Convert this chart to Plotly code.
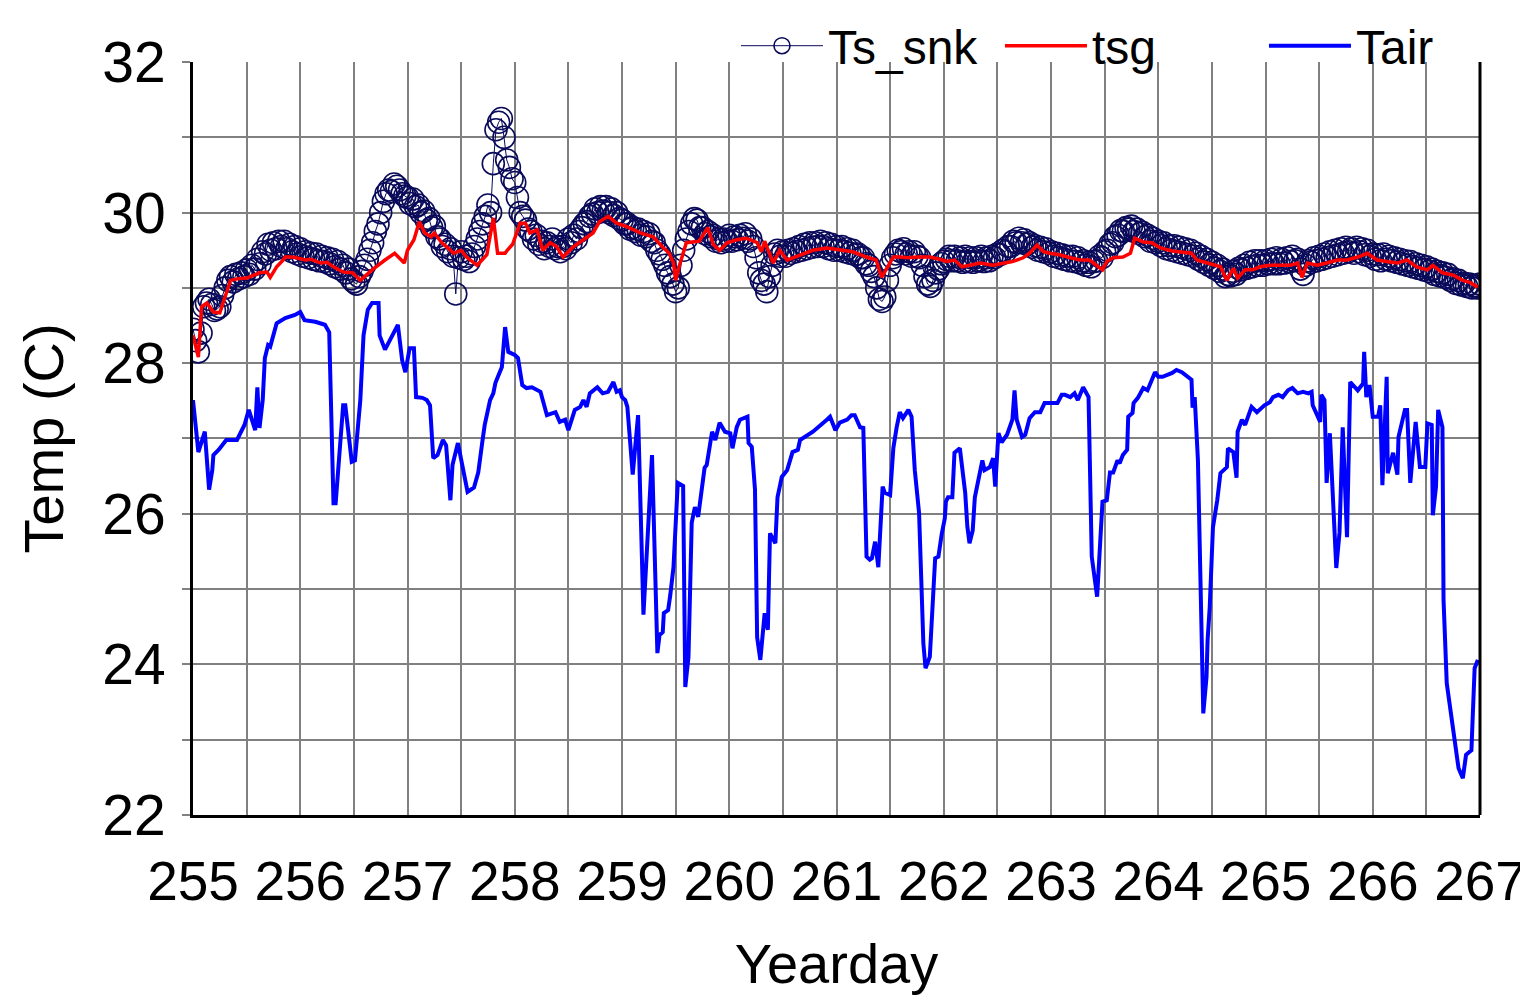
import numpy as np
import plotly.graph_objects as go

# ---------------- data ----------------
# Ts_snk sampled every 0.025 yearday starting at 255.0 (one row per day)
ts_snk_start = 255.0
ts_snk_step = 0.025
ts_snk = [
    # 255
    28.45, 28.30, 28.15, 28.40, 28.75, 28.80, 28.85, 28.78, 28.70, 28.72,
    28.75, 28.90, 29.00, 29.10, 29.15, 29.08, 29.18, 29.12, 29.20, 29.15,
    29.24, 29.18, 29.30, 29.25, 29.38, 29.32, 29.48, 29.45, 29.58, 29.50,
    29.60, 29.52, 29.62, 29.55, 29.62, 29.52, 29.58, 29.48, 29.55, 29.45,
    # 256
    29.52, 29.42, 29.48, 29.40, 29.46, 29.38, 29.45, 29.36, 29.42, 29.35,
    29.40, 29.32, 29.38, 29.28, 29.35, 29.25, 29.30, 29.20, 29.25, 29.12,
    29.08, 29.05, 29.15, 29.22, 29.30, 29.38, 29.50, 29.60, 29.75, 29.85,
    30.00, 30.15, 30.25, 30.30, 30.28, 30.38, 30.35, 30.30, 30.25, 30.22,
    # 257
    30.20, 30.12, 30.18, 30.08, 30.10, 30.00, 30.02, 29.90, 29.92, 29.80,
    29.82, 29.68, 29.65, 29.55, 29.58, 29.48, 29.52, 29.42, 28.92, 29.40,
    29.48, 29.38, 29.42, 29.35, 29.45, 29.55, 29.65, 29.75, 29.85, 29.95,
    30.10, 30.00, 30.65, 31.10, 31.20, 31.25, 31.00, 30.70, 30.60, 30.45,
    # 258
    30.40, 30.20, 30.00, 29.95, 29.90, 29.78, 29.75, 29.65, 29.70, 29.58,
    29.62, 29.52, 29.60, 29.55, 29.65, 29.52, 29.55, 29.48, 29.55, 29.52,
    29.65, 29.60, 29.70, 29.65, 29.75, 29.80, 29.85, 29.88, 29.95, 29.98,
    30.05, 30.00, 30.08, 30.02, 30.08, 30.00, 30.05, 29.96, 30.00, 29.92,
    # 259
    29.90, 29.85, 29.85, 29.78, 29.80, 29.75, 29.78, 29.70, 29.75, 29.68,
    29.72, 29.62, 29.60, 29.50, 29.45, 29.38, 29.30, 29.20, 29.15, 29.05,
    28.95, 29.00, 29.30, 29.50, 29.65, 29.75, 29.85, 29.92, 29.90, 29.80,
    29.80, 29.72, 29.75, 29.68, 29.70, 29.62, 29.65, 29.60, 29.65, 29.62,
    # 260
    29.70, 29.62, 29.68, 29.64, 29.70, 29.66, 29.72, 29.62, 29.65, 29.55,
    29.40, 29.20, 29.10, 29.05, 28.95, 29.15, 29.30, 29.45, 29.50, 29.42,
    29.48, 29.42, 29.50, 29.46, 29.52, 29.48, 29.55, 29.50, 29.58, 29.52,
    29.60, 29.54, 29.60, 29.55, 29.62, 29.55, 29.60, 29.52, 29.58, 29.50,
    # 261
    29.55, 29.50, 29.55, 29.48, 29.52, 29.46, 29.50, 29.44, 29.45, 29.40,
    29.40, 29.32, 29.30, 29.22, 29.15, 29.00, 28.85, 28.82, 28.88, 29.10,
    29.30, 29.40, 29.45, 29.50, 29.48, 29.52, 29.45, 29.48, 29.42, 29.48,
    29.42, 29.40, 29.30, 29.15, 29.05, 29.02, 29.10, 29.20, 29.25, 29.32,
    # 262
    29.35, 29.38, 29.42, 29.36, 29.42, 29.36, 29.40, 29.34, 29.42, 29.35,
    29.40, 29.34, 29.40, 29.36, 29.42, 29.35, 29.40, 29.36, 29.42, 29.40,
    29.45, 29.44, 29.50, 29.48, 29.55, 29.55, 29.62, 29.60, 29.66, 29.60,
    29.64, 29.58, 29.60, 29.54, 29.56, 29.50, 29.54, 29.48, 29.52, 29.46,
    # 263
    29.48, 29.42, 29.46, 29.40, 29.44, 29.38, 29.42, 29.36, 29.42, 29.35,
    29.40, 29.33, 29.36, 29.30, 29.34, 29.28, 29.35, 29.36, 29.42, 29.40,
    29.48, 29.50, 29.58, 29.60, 29.68, 29.70, 29.76, 29.75, 29.80, 29.78,
    29.82, 29.75, 29.78, 29.72, 29.74, 29.68, 29.70, 29.62, 29.66, 29.60,
    # 264
    29.62, 29.56, 29.60, 29.52, 29.56, 29.50, 29.56, 29.48, 29.54, 29.46,
    29.52, 29.44, 29.50, 29.42, 29.46, 29.38, 29.42, 29.34, 29.38, 29.30,
    29.34, 29.26, 29.30, 29.22, 29.25, 29.15, 29.18, 29.16, 29.22, 29.18,
    29.26, 29.24, 29.30, 29.26, 29.34, 29.28, 29.36, 29.30, 29.36, 29.30,
    # 265
    29.36, 29.32, 29.38, 29.32, 29.40, 29.32, 29.38, 29.33, 29.40, 29.35,
    29.42, 29.36, 29.38, 29.25, 29.18, 29.30, 29.36, 29.34, 29.40, 29.36,
    29.42, 29.38, 29.45, 29.40, 29.48, 29.42, 29.50, 29.44, 29.52, 29.46,
    29.54, 29.48, 29.52, 29.46, 29.54, 29.48, 29.52, 29.44, 29.50, 29.42,
    # 266
    29.45, 29.38, 29.44, 29.36, 29.45, 29.38, 29.42, 29.36, 29.40, 29.34,
    29.38, 29.32, 29.36, 29.30, 29.35, 29.28, 29.32, 29.26, 29.30, 29.24,
    29.28, 29.22, 29.25, 29.18, 29.22, 29.16, 29.20, 29.14, 29.18, 29.10,
    29.12, 29.06, 29.10, 29.04, 29.06, 29.02, 29.05, 29.00, 29.03, 29.00,
    # 267
    29.05,
]
ts_snk_day = ts_snk_start + ts_snk_step * np.arange(len(ts_snk))

tsg_day = [
    255.00, 255.05, 255.08, 255.13, 255.19, 255.25, 255.28, 255.35, 255.41, 255.50,
    255.62, 255.69, 255.72, 255.78, 255.84, 255.86, 255.93, 255.97, 256.05, 256.10,
    256.19, 256.25, 256.31, 256.40, 256.49, 256.56, 256.67, 256.79, 256.88, 256.97,
    257.00, 257.06, 257.11, 257.16, 257.22, 257.25, 257.32, 257.37, 257.43, 257.50,
    257.55, 257.65, 257.74, 257.80, 257.84, 257.91, 257.93, 257.98, 258.05, 258.10,
    258.14, 258.21, 258.26, 258.33, 258.39, 258.45, 258.54, 258.64, 258.73, 258.79,
    258.87, 258.95, 259.05, 259.17, 259.29, 259.38, 259.44, 259.48, 259.50, 259.53,
    259.60, 259.72, 259.80, 259.85, 259.91, 259.98, 260.07, 260.16, 260.26, 260.30,
    260.33, 260.41, 260.47, 260.54, 260.66, 260.78, 260.91, 261.03, 261.15, 261.28,
    261.37, 261.42, 261.46, 261.53, 261.59, 261.66, 261.76, 261.87, 261.96, 262.03,
    262.10, 262.17, 262.24, 262.34, 262.46, 262.55, 262.64, 262.74, 262.80, 262.87,
    262.93, 262.99, 263.08, 263.18, 263.27, 263.36, 263.43, 263.48, 263.52, 263.58,
    263.67, 263.74, 263.78, 263.86, 263.94, 264.02, 264.13, 264.22, 264.31, 264.36,
    264.45, 264.58, 264.64, 264.70, 264.74, 264.81, 264.88, 264.95, 265.04, 265.13,
    265.23, 265.30, 265.34, 265.39, 265.48, 265.57, 265.67, 265.76, 265.86, 265.95,
    266.04, 266.13, 266.23, 266.32, 266.41, 266.51, 266.56, 266.65, 266.75, 266.84,
    266.91, 266.98,
]
tsg = [
    28.37, 28.08, 28.75, 28.80, 28.68, 28.67, 28.80, 29.10, 29.12, 29.13,
    29.20, 29.21, 29.14, 29.28, 29.37, 29.41, 29.41, 29.40, 29.37, 29.38,
    29.33, 29.34, 29.28, 29.21, 29.20, 29.10, 29.24, 29.37, 29.46, 29.33,
    29.50, 29.64, 29.88, 29.73, 29.68, 29.73, 29.60, 29.54, 29.46, 29.50,
    29.41, 29.30, 29.44, 29.93, 29.46, 29.46, 29.50, 29.58, 29.86, 29.86,
    29.73, 29.77, 29.50, 29.60, 29.55, 29.41, 29.54, 29.64, 29.73, 29.88,
    29.95, 29.86, 29.81, 29.73, 29.68, 29.54, 29.46, 29.33, 29.10, 29.27,
    29.60, 29.62, 29.80, 29.58, 29.50, 29.60, 29.64, 29.66, 29.60, 29.48,
    29.62, 29.33, 29.50, 29.37, 29.44, 29.50, 29.53, 29.50, 29.48, 29.41,
    29.37, 29.14, 29.24, 29.41, 29.41, 29.40, 29.41, 29.41, 29.38, 29.35,
    29.37, 29.28, 29.30, 29.33, 29.30, 29.33, 29.35, 29.40, 29.46, 29.57,
    29.48, 29.46, 29.44, 29.40, 29.37, 29.37, 29.30, 29.24, 29.35, 29.40,
    29.41, 29.46, 29.66, 29.61, 29.60, 29.53, 29.49, 29.47, 29.46, 29.37,
    29.33, 29.28, 29.10, 29.26, 29.13, 29.24, 29.24, 29.28, 29.30, 29.30,
    29.30, 29.33, 29.14, 29.33, 29.30, 29.33, 29.37, 29.37, 29.41, 29.46,
    29.37, 29.35, 29.33, 29.37, 29.28, 29.24, 29.30, 29.20, 29.17, 29.10,
    29.07, 29.01,
]

tair_day = [
    255.00, 255.05, 255.11, 255.15, 255.18, 255.19, 255.24, 255.31, 255.41, 255.48,
    255.52, 255.58, 255.60, 255.62, 255.65, 255.67, 255.70, 255.72, 255.78, 255.86,
    255.95, 256.00, 256.04, 256.14, 256.23, 256.27, 256.31, 256.33, 256.40, 256.42,
    256.48, 256.51, 256.56, 256.59, 256.63, 256.67, 256.73, 256.74, 256.79, 256.84,
    256.88, 256.91, 256.95, 256.98, 257.02, 257.06, 257.08, 257.14, 257.18, 257.21,
    257.24, 257.28, 257.33, 257.36, 257.40, 257.42, 257.47, 257.52, 257.56, 257.62,
    257.66, 257.70, 257.72, 257.77, 257.80, 257.82, 257.84, 257.88, 257.91, 257.94,
    258.00, 258.03, 258.07, 258.11, 258.16, 258.21, 258.24, 258.30, 258.38, 258.42,
    258.47, 258.50, 258.56, 258.61, 258.64, 258.67, 258.70, 258.77, 258.82, 258.87,
    258.92, 258.95, 258.98, 259.00, 259.03, 259.05, 259.09, 259.10, 259.15, 259.20,
    259.28, 259.33, 259.35, 259.38, 259.39, 259.43, 259.45, 259.48, 259.52, 259.57,
    259.59, 259.62, 259.65, 259.68, 259.71, 259.77, 259.79, 259.84, 259.87, 259.91,
    259.96, 260.01, 260.03, 260.07, 260.10, 260.17, 260.18, 260.21, 260.24, 260.26,
    260.29, 260.33, 260.36, 260.38, 260.43, 260.45, 260.49, 260.54, 260.59, 260.64,
    260.66, 260.78, 260.91, 260.94, 260.99, 261.03, 261.10, 261.14, 261.17, 261.22,
    261.25, 261.28, 261.31, 261.33, 261.36, 261.39, 261.43, 261.45, 261.50, 261.53,
    261.56, 261.59, 261.62, 261.67, 261.70, 261.73, 261.77, 261.81, 261.83, 261.87,
    261.92, 261.95, 261.98, 262.01, 262.02, 262.04, 262.08, 262.10, 262.15, 262.20,
    262.22, 262.24, 262.27, 262.29, 262.36, 262.38, 262.43, 262.46, 262.48, 262.51,
    262.54, 262.59, 262.64, 262.66, 262.68, 262.73, 262.76, 262.80, 262.85, 262.90,
    262.94, 262.97, 263.06, 263.10, 263.13, 263.18, 263.22, 263.25, 263.30, 263.35,
    263.38, 263.43, 263.46, 263.48, 263.52, 263.55, 263.58, 263.62, 263.64, 263.67,
    263.71, 263.72, 263.76, 263.77, 263.81, 263.86, 263.90, 263.92, 263.97, 264.00,
    264.04, 264.13, 264.17, 264.22, 264.27, 264.31, 264.32, 264.34, 264.37, 264.40,
    264.42, 264.45, 264.46, 264.48, 264.51, 264.55, 264.58, 264.64, 264.65, 264.70,
    264.73, 264.74, 264.78, 264.81, 264.87, 264.92, 264.99, 265.04, 265.07, 265.12,
    265.16, 265.21, 265.25, 265.30, 265.35, 265.40, 265.43, 265.44, 265.51, 265.52,
    265.55, 265.57, 265.60, 265.66, 265.69, 265.72, 265.76, 265.79, 265.86, 265.91,
    265.92, 265.94, 265.97, 266.00, 266.05, 266.07, 266.09, 266.13, 266.14, 266.19,
    266.23, 266.24, 266.30, 266.32, 266.35, 266.40, 266.44, 266.49, 266.51, 266.55,
    266.56, 266.59, 266.61, 266.65, 266.66, 266.69, 266.75, 266.80, 266.84, 266.87,
    266.92, 266.95, 266.98,
]
tair = [
    27.51, 26.82, 27.09, 26.32, 26.58, 26.78, 26.85, 26.98, 26.98, 27.18,
    27.38, 27.11, 27.68, 27.14, 27.51, 28.07, 28.24, 28.22, 28.53, 28.60,
    28.64, 28.68, 28.57, 28.55, 28.51, 28.41, 26.14, 26.14, 27.44, 27.44,
    26.69, 26.71, 27.51, 28.37, 28.71, 28.80, 28.80, 28.37, 28.18, 28.33,
    28.44, 28.51, 28.04, 27.88, 28.20, 28.20, 27.55, 27.54, 27.51, 27.44,
    26.74, 26.78, 26.98, 26.91, 26.18, 26.65, 26.94, 26.55, 26.29, 26.35,
    26.55, 26.98, 27.18, 27.51, 27.60, 27.74, 27.80, 27.95, 28.48, 28.15,
    28.11, 28.07, 27.71, 27.67, 27.68, 27.64, 27.62, 27.31, 27.35, 27.22,
    27.25, 27.11, 27.38, 27.42, 27.51, 27.42, 27.60, 27.68, 27.60, 27.62,
    27.75, 27.62, 27.64, 27.55, 27.51, 27.42, 26.54, 26.52, 27.31, 24.66,
    26.78, 24.15, 24.39, 24.43, 24.68, 24.72, 24.92, 25.29, 26.41, 26.37,
    23.70, 24.10, 25.88, 26.09, 25.96, 26.61, 26.65, 27.09, 26.98, 27.21,
    27.09, 27.07, 26.87, 27.15, 27.25, 27.29, 26.94, 26.89, 26.32, 24.36,
    24.06, 24.68, 24.46, 25.74, 25.61, 26.22, 26.49, 26.58, 26.82, 26.85,
    26.98, 27.09, 27.25, 27.29, 27.11, 27.21, 27.25, 27.31, 27.31, 27.15,
    27.14, 25.43, 25.39, 25.41, 25.63, 25.29, 26.36, 26.28, 26.25, 26.87,
    27.14, 27.35, 27.27, 27.38, 27.29, 26.58, 26.01, 24.28, 23.95, 24.10,
    25.41, 25.43, 25.72, 25.94, 26.16, 26.22, 26.22, 26.81, 26.87, 26.28,
    25.83, 25.61, 25.78, 26.22, 26.71, 26.58, 26.62, 26.74, 26.36, 27.07,
    26.95, 27.05, 27.25, 27.64, 27.25, 27.02, 27.05, 27.27, 27.35, 27.35,
    27.47, 27.47, 27.47, 27.58, 27.58, 27.55, 27.60, 27.51, 27.68, 27.55,
    25.43, 24.90, 25.69, 26.16, 26.18, 26.55, 26.55, 26.71, 26.67, 26.78,
    26.85, 27.29, 27.34, 27.47, 27.54, 27.67, 27.64, 27.71, 27.88, 27.82,
    27.82, 27.87, 27.91, 27.88, 27.82, 27.78, 27.41, 27.55, 26.71, 24.95,
    23.35, 23.83, 24.32, 24.76, 25.82, 26.18, 26.54, 26.62, 26.87, 26.82,
    26.48, 27.09, 27.25, 27.18, 27.42, 27.35, 27.44, 27.48, 27.55, 27.58,
    27.55, 27.64, 27.67, 27.60, 27.62, 27.60, 27.62, 27.44, 27.22, 27.58,
    27.51, 26.41, 27.07, 25.28, 25.75, 27.15, 25.69, 27.75, 27.64, 27.73,
    28.15, 27.55, 27.71, 27.29, 27.29, 27.44, 26.38, 27.82, 26.54, 26.81,
    26.52, 27.02, 27.38, 27.38, 26.41, 27.22, 26.62, 26.62, 27.20, 27.18,
    25.98, 26.36, 27.38, 27.15, 24.86, 23.75, 23.17, 22.62, 22.49, 22.80,
    22.86, 23.95, 24.06,
]

x_ticks = list(range(255, 268))
y_ticks = [22, 24, 26, 28, 30, 32]

# ---------------- figure ----------------
FONT = "Liberation Sans, Arial, sans-serif"
GRID = "#808080"
NAVY = "#0a0a5a"

fig = go.Figure()
fig.add_trace(go.Scatter(
    x=ts_snk_day, y=ts_snk, name="Ts_snk", mode="lines+markers",
    line=dict(color=NAVY, width=1),
    marker=dict(symbol="circle-open", size=22, color=NAVY,
                line=dict(width=1.6, color=NAVY)),
))
fig.add_trace(go.Scatter(
    x=tsg_day, y=tsg, name="tsg", mode="lines",
    line=dict(color="#ff0000", width=3.5),
))
fig.add_trace(go.Scatter(
    x=tair_day, y=tair, name="Tair", mode="lines",
    line=dict(color="#0000ff", width=4),
))

fig.update_layout(
    width=1528, height=997,
    margin=dict(l=185, r=0, t=0, b=190),
    paper_bgcolor="white", plot_bgcolor="white",
    font=dict(family=FONT, color="black"),
    showlegend=True,
    legend=dict(
        orientation="h", x=0.4043, y=1.0, xanchor="left", yanchor="top",
        font=dict(size=48, family=FONT), bgcolor="rgba(0,0,0,0)",
        entrywidth=167, entrywidthmode="pixels", itemwidth=82,
        traceorder="normal",
    ),
    xaxis=dict(
        range=[255, 267], domain=[0, 0.9583],
        tickvals=x_ticks, ticktext=[str(v) for v in x_ticks],
        showgrid=True, gridcolor=GRID, gridwidth=2,
        minor=dict(dtick=0.5, showgrid=True, gridcolor=GRID, gridwidth=2),
        showline=True, linecolor="black", linewidth=3, mirror=False,
        ticks="", tickfont=dict(size=55, family=FONT), ticklabelstandoff=16,
        title=dict(text="Yearday", font=dict(size=56, family=FONT), standoff=33),
        zeroline=False, automargin=False,
    ),
    yaxis=dict(
        range=[22, 32], domain=[0, 0.93309],
        tickvals=y_ticks, ticktext=[str(v) for v in y_ticks],
        showgrid=True, gridcolor=GRID, gridwidth=2,
        minor=dict(dtick=1, showgrid=True, gridcolor=GRID, gridwidth=2,
                   ticks="outside", ticklen=8, tickcolor=GRID, tickwidth=2),
        showline=True, linecolor="black", linewidth=3, mirror=False,
        ticks="", tickfont=dict(size=57, family=FONT), ticklabelstandoff=13,
        title=dict(text="Temp (C)", font=dict(size=56, family=FONT), standoff=21),
        zeroline=False, automargin=False,
    ),
)
# right frame line
fig.add_shape(type="line", xref="x domain", yref="y domain", x0=1, x1=1, y0=0, y1=1,
              line=dict(color="black", width=3), layer="above")

fig.write_html("out.html")
